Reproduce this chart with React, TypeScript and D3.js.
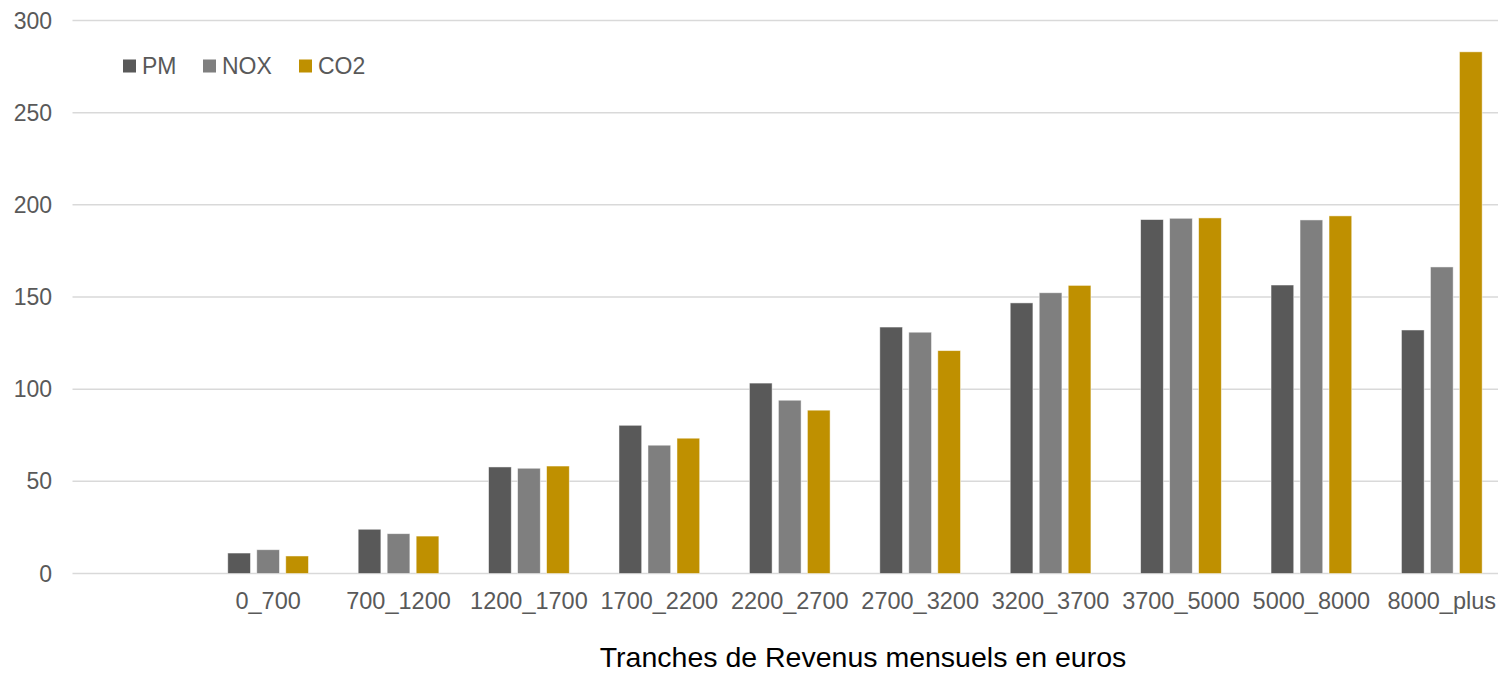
import React from "react";
import * as d3 from "d3";

const categories = ["", "0_700", "700_1200", "1200_1700", "1700_2200", "2200_2700", "2700_3200", "3200_3700", "3700_5000", "5000_8000", "8000_plus"];
const seriesNames = ["PM", "NOX", "CO2"];
const pmValues = [null, 11.1, 24.0, 57.8, 80.4, 103.3, 133.7, 146.8, 192.0, 156.5, 132.1];
const noxValues = [null, 12.9, 21.6, 57.1, 69.6, 94.0, 130.9, 152.3, 192.7, 191.8, 166.3];
const co2Values = [null, 9.5, 20.3, 58.3, 73.4, 88.6, 120.9, 156.3, 192.9, 194.0, 283.0];
const yTicks = [0, 50, 100, 150, 200, 250, 300];
const colors = ["#595959", "#7f7f7f", "#bf9000"];
const xTitle = "Tranches de Revenus mensuels en euros";

const W = 1498;
const H = 673;

export default function App() {
  const x = d3.scaleBand<string>().domain(categories).range([72.5, 1507]).paddingInner(0).paddingOuter(0);
  const x1 = d3.scaleBand<string>().domain(seriesNames).range([0, x.bandwidth()]).paddingInner(0.217).paddingOuter(0.857);
  const y = d3.scaleLinear().domain([0, 300]).range([573.5, 20.5]);
  const allValues = [pmValues, noxValues, co2Values];
  const textColor = "#595959";
  const font = "'Liberation Sans', Arial, sans-serif";

  return (
    <svg width={W} height={H} style={{ position: "absolute", left: 0, top: 0, background: "#fff" }} fontFamily={font}>
      <rect x={0} y={0} width={W} height={H} fill="#fff" />
      {yTicks.map((t) => (
        <g key={t}>
          <line x1={72.5} x2={W} y1={y(t)} y2={y(t)} stroke="#d9d9d9" strokeWidth={1.5} />
          <text x={52} y={y(t)} dy="0.35em" textAnchor="end" fontSize={23} fill={textColor}>
            {t}
          </text>
        </g>
      ))}
      {categories.map((c, ci) =>
        seriesNames.map((s, si) => {
          const v = allValues[si][ci];
          if (v == null) return null;
          const bx = (x(c) as number) + (x1(s) as number);
          return (
            <rect
              key={c + s}
              x={bx}
              y={y(v)}
              width={x1.bandwidth()}
              height={y(0) - y(v)}
              fill={colors[si]}
              stroke="#ffffff"
              strokeOpacity={0.6}
              strokeWidth={0.8}
            />
          );
        })
      )}
      {categories.map((c) =>
        c ? (
          <text key={c} x={(x(c) as number) + x.bandwidth() / 2} y={609} textAnchor="middle" fontSize={23.5} fill={textColor}>
            {c}
          </text>
        ) : null
      )}
      <text x={863} y={667} textAnchor="middle" fontSize={28.5} fill="#000">
        {xTitle}
      </text>
      {seriesNames.map((s, i) => {
        const lx = [123, 203, 299][i];
        return (
          <g key={s}>
            <rect x={lx} y={59.5} width={13} height={13} fill={colors[i]} />
            <text x={lx + 19} y={74} fontSize={23} fill={textColor}>
              {s}
            </text>
          </g>
        );
      })}
    </svg>
  );
}
